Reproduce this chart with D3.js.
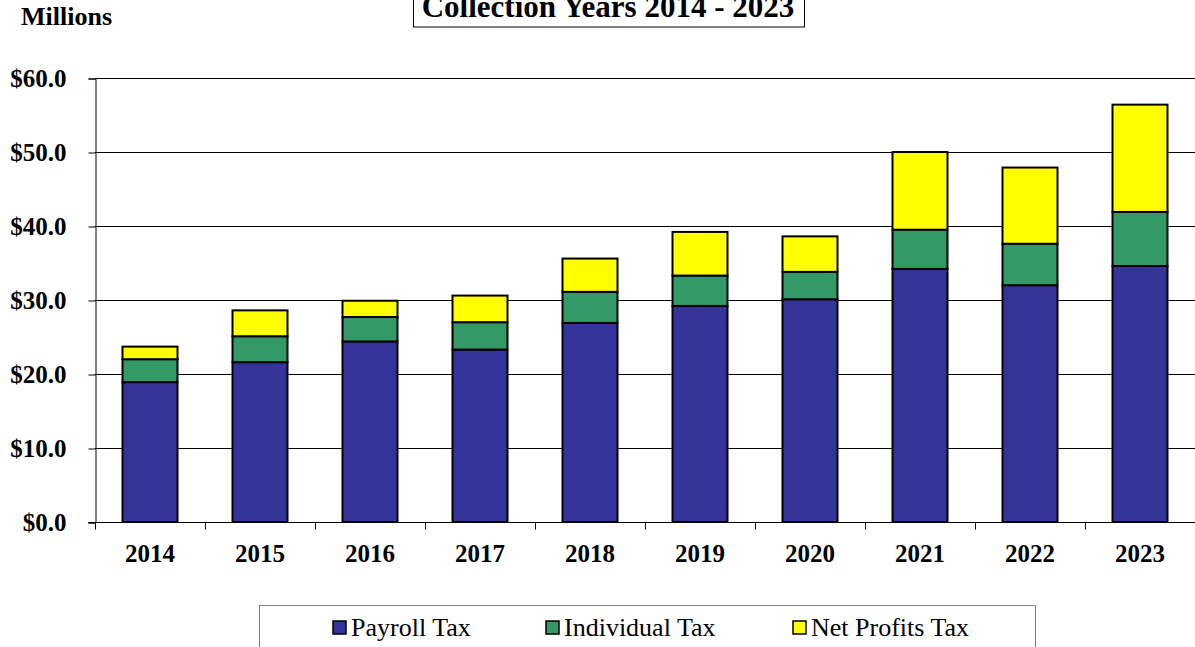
<!DOCTYPE html>
<html>
<head>
<meta charset="utf-8">
<script src="https://cdn.jsdelivr.net/npm/d3@7"></script>
<style>
  body { margin: 0; background: #fff; }
  text { font-family: "Liberation Serif", "Times New Roman", serif; }
</style>
</head>
<body>
<div id="chart"></div>
<script>
// collection years and tax amounts (millions)
var years = ['2014', '2015', '2016', '2017', '2018', '2019', '2020', '2021', '2022', '2023'];
var payroll = [18.9, 21.6, 24.4, 23.3, 26.9, 29.2, 30.1, 34.2, 32.0, 34.6];
var individual = [3.1, 3.5, 3.3, 3.7, 4.2, 4.1, 3.7, 5.3, 5.6, 7.3];
var netProfits = [1.7, 3.5, 2.2, 3.6, 4.5, 5.9, 4.8, 10.5, 10.3, 14.5];
var seriesNames = ['Payroll Tax', 'Individual Tax', 'Net Profits Tax'];
var seriesColors = ['#333399', '#339966', '#ffff00'];
var yTicks = [0, 10, 20, 30, 40, 50, 60];

var width = 1195, height = 647;
var plotLeft = 95, plotRight = 1195, plotTop = 78, plotBottom = 522;

var svg = d3.select('#chart')
  .append('svg')
  .attr('width', width)
  .attr('height', height);

// rows for the stack
var rows = years.map((y, i) => ({year: y, 'Payroll Tax': payroll[i], 'Individual Tax': individual[i], 'Net Profits Tax': netProfits[i]}));
var stacked = d3.stack().keys(seriesNames)(rows);

var x = d3.scaleBand()
  .domain(years)
  .range([plotLeft, plotRight])
  .paddingInner(0.5)
  .paddingOuter(0.25);

var y = d3.scaleLinear()
  .domain([0, 60])
  .range([plotBottom, plotTop]);

// gridlines
svg.append('g')
  .selectAll('line')
  .data(yTicks.filter(d => d > 0))
  .enter()
  .append('line')
  .attr('x1', plotLeft).attr('x2', plotRight)
  .attr('y1', d => y(d) + 0.5).attr('y2', d => y(d) + 0.5)
  .attr('stroke', '#000')
  .attr('stroke-width', 1);

// y axis
var yAxis = svg.append('g')
  .attr('transform', `translate(${plotLeft + 0.5},0.5)`)
  .call(d3.axisLeft(y).tickValues(yTicks).tickSize(7).tickPadding(22).tickFormat(d => '$' + d.toFixed(1)));
yAxis.selectAll('path, line').attr('stroke', '#000');
yAxis.selectAll('text')
  .attr('font-family', '"Liberation Serif", serif')
  .attr('font-size', 25)
  .attr('font-weight', 'bold')
  .attr('fill', '#000');

// bars
var layers = svg.append('g')
  .selectAll('g')
  .data(stacked)
  .enter()
  .append('g')
  .attr('fill', (d, i) => seriesColors[i]);

layers.selectAll('rect')
  .data(d => d)
  .enter()
  .append('rect')
  .attr('x', d => x(d.data.year))
  .attr('width', x.bandwidth())
  .attr('y', d => y(d[1]))
  .attr('height', d => y(d[0]) - y(d[1]))
  .attr('stroke', '#000')
  .attr('stroke-width', 2);

// x axis
var gap = (x.step() - x.bandwidth()) / 2;
var xAxis = svg.append('g')
  .attr('transform', `translate(0,${plotBottom + 0.5})`);
xAxis.append('line')
  .attr('x1', plotLeft - 7).attr('x2', plotRight)
  .attr('stroke', '#000');
xAxis.selectAll('.tick')
  .data(years)
  .enter()
  .append('line')
  .attr('x1', d => x(d) - gap + 0.5)
  .attr('x2', d => x(d) - gap + 0.5)
  .attr('y1', 0).attr('y2', 7)
  .attr('stroke', '#000');
xAxis.selectAll('text')
  .data(years)
  .enter()
  .append('text')
  .attr('x', d => x(d) + x.bandwidth() / 2)
  .attr('y', 39.5)
  .attr('text-anchor', 'middle')
  .attr('font-size', 25)
  .attr('font-weight', 'bold')
  .text(d => d);

// title
svg.append('rect')
  .attr('x', 413.5).attr('y', -10)
  .attr('width', 391).attr('height', 37)
  .attr('fill', 'none')
  .attr('stroke', '#000');
svg.append('text')
  .attr('x', 608).attr('y', 17)
  .attr('text-anchor', 'middle')
  .attr('font-size', 31)
  .attr('font-weight', 'bold')
  .text('Collection Years 2014 - 2023');

svg.append('text')
  .attr('x', 21).attr('y', 25)
  .attr('font-size', 26)
  .attr('font-weight', 'bold')
  .text('Millions');

// legend
svg.append('rect')
  .attr('x', 259.5).attr('y', 605.5)
  .attr('width', 776).attr('height', 60)
  .attr('fill', 'none')
  .attr('stroke', '#808080');

var legendX = [333, 546, 793];
var legend = svg.append('g')
  .selectAll('g')
  .data(seriesNames)
  .enter()
  .append('g')
  .attr('transform', (d, i) => `translate(${legendX[i]},621)`);
legend.append('rect')
  .attr('width', 13).attr('height', 13)
  .attr('fill', (d, i) => seriesColors[i])
  .attr('stroke', '#000')
  .attr('stroke-width', 1.5);
legend.append('text')
  .attr('x', 18).attr('y', 15)
  .attr('font-size', 26)
  .text(d => d);
</script>
</body>
</html>
